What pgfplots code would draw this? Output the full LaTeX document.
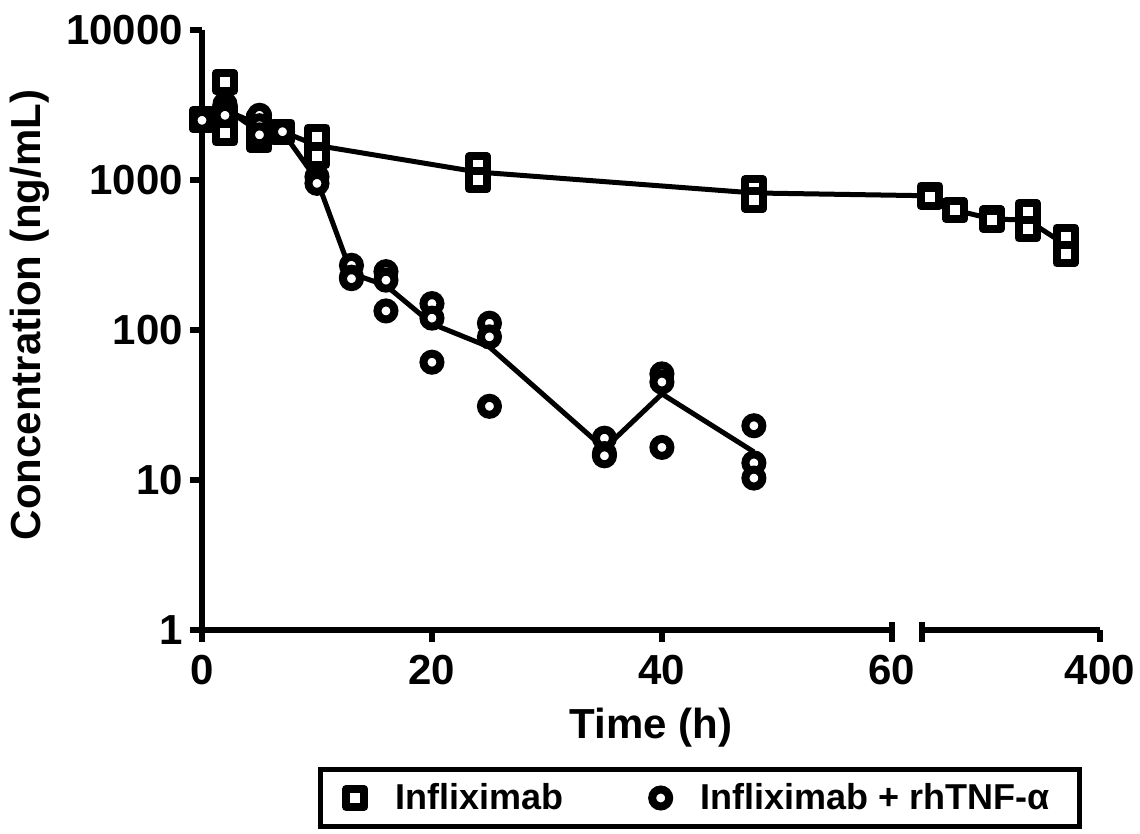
\documentclass[border=0pt]{standalone}
\usepackage{fontspec}
\setmainfont{Liberation Sans}
\usepackage{pgfplots}
\pgfplotsset{compat=1.18}

\newcommand\lblfont{\fontsize{21bp}{24bp}\selectfont\bfseries}
\newcommand\legfont{\fontsize{18bp}{21bp}\selectfont\bfseries}

\begin{document}
\begin{tikzpicture}
\begin{axis}[name=ax, at={(0,0)}, anchor=south west,
  scale only axis, width=449bp, height=300bp,
  ymode=log, xmin=0, xmax=78.1, ymin=1, ymax=10000,
  axis lines=left, axis line style={-, line width=3bp},
  x axis line style={draw=none},
  xtick={0,20,40,60,78.1}, xticklabels={0,20,40,60,400},
  ytick={1,10,100,1000,10000}, yticklabels={1,10,100,1000,10000},
  yminorticks=false, xminorticks=false,
  tick align=outside, major tick length=6bp,
  tick style={line width=3bp, black},
  ticklabel style={font=\lblfont},
  xticklabel style={yshift=-3bp},
  label style={font=\lblfont},
  xlabel={Time (h)}, ylabel={Concentration (ng/mL)},
  xlabel style={at={(axis description cs:0.5,-0.162)}, anchor=center},
  ylabel style={at={(axis description cs:-0.1915,0.525)}, anchor=center},
  clip=false,
  legend columns=2,
  legend image code/.code={\path[draw=none] (0bp,0bp) -- (18bp,0bp);
    \draw[#1] plot coordinates {(0bp,0bp)};},
  legend style={at={(0.5546,-0.28)}, anchor=center, draw=black,
    line width=2.5bp, font=\legfont, inner xsep=13bp, inner ysep=5bp,
    /tikz/every even column/.append style={column sep=42.5bp}},
]
% mean lines
\addplot[line width=2.5bp, black, forget plot] coordinates {
  (0,2500) (2,3000) (5,2100) (7,2100) (10,1700) (24,1130) (48,820)
  (63.3,785) (65.5,630) (68.7,550) (71.8,540) (75.1,370)};
\addplot[line width=2.5bp, black, forget plot] coordinates {
  (0,2500) (2,2930) (5,2330) (7,2100) (10,1000) (13,238) (16,198)
  (20,110) (25,77) (35,16.2) (40,37.5) (48,15.4)};
% individual values
\addplot[only marks, mark=square*, mark size=4.5bp,
  mark options={fill=white, draw=black, line width=4bp, line join=round}]
  coordinates {
  (0,2500) (0,2550) (2,4500) (2,2050) (2,2700)
  (5,2400) (5,2050) (5,1850) (7,2100) (10,1950) (10,1450)
  (24,1250) (24,1000) (48,880) (48,740)
  (63.3,800) (63.3,770) (65.5,630) (68.7,555) (68.7,545)
  (71.8,610) (71.8,470) (75.1,420) (75.1,320)};
\addlegendentry{Infliximab}
\addplot[only marks, mark=*, mark size=4.25bp,
  mark options={fill=white, draw=black, line width=4bp}]
  coordinates {
  (0,2500) (2,3200) (2,2900) (2,2700) (5,2700) (5,2300) (5,2000)
  (7,2100) (10,1050) (10,950)
  (13,270) (13,225) (13,220) (16,245) (16,215) (16,134)
  (20,150) (20,120) (20,61) (25,111) (25,90) (25,31)
  (35,19) (35,15) (35,14.5) (40,51) (40,45) (40,16.5)
  (48,23) (48,13) (48,10.3)};
\addlegendentry{Infliximab + rhTNF-α\hspace{33.5bp}}
% broken x axis
\draw[line width=3bp] (axis cs:0,1) -- (axis cs:60,1);
\draw[line width=3bp] (axis cs:62.6,1) -- (axis cs:78.1,1);
\draw[line width=3bp] ([yshift=4bp]axis cs:60,1) -- ([yshift=-6bp]axis cs:60,1);
\draw[line width=3bp] ([yshift=4bp]axis cs:62.6,1) -- ([yshift=-6bp]axis cs:62.6,1);
\end{axis}
\pgfresetboundingbox
\useasboundingbox (-101bp,-102bp) rectangle (469bp,315bp);
\end{tikzpicture}
\end{document}
